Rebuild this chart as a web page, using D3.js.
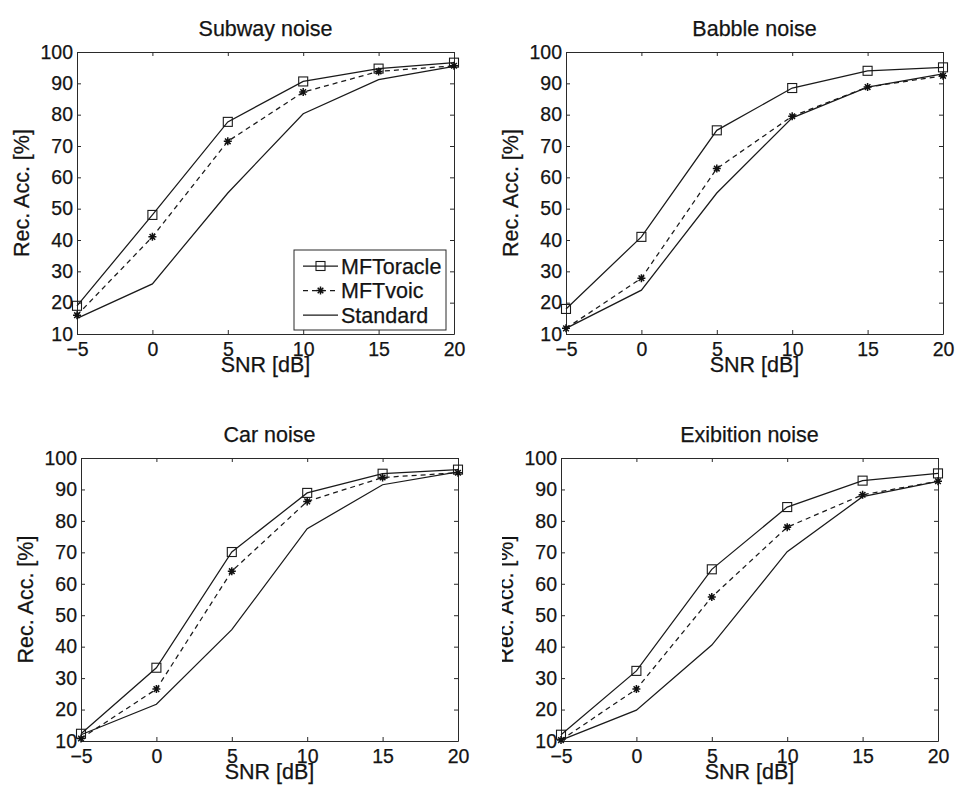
<!DOCTYPE html>
<html>
<head>
    <meta charset="utf-8">
    <title>Rec. Acc. vs SNR</title>
    <script type="text/javascript" src="https://cdn.jsdelivr.net/npm/d3@7"></script>
    <style>
        body { margin: 0; background: #fff; }
        text { font-family: "Liberation Sans", Arial, Helvetica, sans-serif; fill: #141414; stroke: #141414; stroke-width: 0.25px; }
        .axis path, .axis line { stroke: #2a2a2a; }
        .line { fill: none; stroke: #1a1a1a; stroke-width: 1.25; }
    </style>
</head>
<body>
<script type="text/javascript">
    // x values and tick labels
    var snrValues = [-5, 0, 5, 10, 15, 20];
    var yTickValues = [10, 20, 30, 40, 50, 60, 70, 80, 90, 100];
    var seriesNames = ["MFToracle", "MFTvoic", "Standard"];
    var panelTitles = ["Subway noise", "Babble noise", "Car noise", "Exibition noise"];

    // one array per panel and system
    var subwayOracle   = [19, 48, 77.7, 90.6, 94.7, 96.6];
    var subwayVoic     = [16, 41, 71.5, 87.2, 93.8, 95.6];
    var subwayStandard = [15, 26, 55, 80.3, 91.2, 95.4];

    var babbleOracle   = [18, 41, 75, 88.5, 94, 95.1];
    var babbleVoic     = [11.8, 27.8, 62.8, 79.5, 88.8, 92.4];
    var babbleStandard = [11.8, 24, 55, 79, 88.8, 93];

    var carOracle   = [12.3, 33.3, 70.1, 88.9, 95, 96.3];
    var carVoic     = [10.8, 26.5, 64, 86.2, 93.8, 95.3];
    var carStandard = [12, 21.7, 45.4, 77.5, 91.5, 95.6];

    var exiOracle   = [12, 32.3, 64.6, 84.4, 92.8, 95.1];
    var exiVoic     = [10.3, 26.5, 55.8, 78, 88.3, 92.6];
    var exiStandard = [10.3, 19.8, 40.5, 70.2, 87.7, 92.6];

    var panelData = [
        [subwayOracle, subwayVoic, subwayStandard],
        [babbleOracle, babbleVoic, babbleStandard],
        [carOracle, carVoic, carStandard],
        [exiOracle, exiVoic, exiStandard]
    ];

    // plot boxes of the four axes (left, top, width, height)
    var boxes = [
        {left: 77,  top: 52,  width: 377, height: 282},
        {left: 566, top: 52,  width: 377, height: 282},
        {left: 81,  top: 458, width: 377, height: 283},
        {left: 561, top: 458, width: 377, height: 283}
    ];

    var tickFont = 19.5,   // tick numbers
        labelFont = 21.5;  // titles, axis labels, legend

    var svg = d3.select("body").append("svg")
            .attr("width", 955)
            .attr("height", 785);

    var defs = svg.append("defs");

    // asterisk marker, like matlab '*'
    function starPath(r) {
        var d = r * 0.7;
        return "M" + (-r) + ",0L" + r + ",0" +
               "M0," + (-r) + "L0," + r +
               "M" + (-d) + "," + (-d) + "L" + d + "," + d +
               "M" + (-d) + "," + d + "L" + d + "," + (-d);
    }

    function drawMarker(g, kind, cx, cy) {
        if (kind === 0) {
            g.append("rect")
                .attr("x", cx - 4.5).attr("y", cy - 4.5)
                .attr("width", 9).attr("height", 9)
                .attr("fill", "none")
                .attr("stroke", "#1a1a1a")
                .attr("stroke-width", 1.1);
        } else if (kind === 1) {
            g.append("path")
                .attr("transform", "translate(" + cx + "," + cy + ")")
                .attr("d", starPath(4))
                .attr("fill", "none")
                .attr("stroke", "#111")
                .attr("stroke-width", 1.5);
        }
    }

    function styleTicks(a) {
        a.selectAll("text")
            .style("font-size", tickFont + "px")
            .attr("fill", "#141414");
    }

    function renderPanel(i) {
        var box = boxes[i];
        var x = d3.scaleLinear().domain([-5, 20]).range([0, box.width]);
        var y = d3.scaleLinear().domain([10, 100]).range([box.height, 0]);

        var g = svg.append("g")
                .attr("transform", "translate(" + box.left + "," + box.top + ")");

        // title
        g.append("text")
            .attr("x", box.width / 2)
            .attr("y", -16)
            .attr("text-anchor", "middle")
            .style("font-size", labelFont + "px")
            .text(panelTitles[i]);

        // bottom + left axes with labels, ticks pointing inward
        g.append("g")
            .attr("class", "axis")
            .attr("transform", "translate(0," + box.height + ")")
            .call(d3.axisBottom(x).tickValues(snrValues).tickSize(-4).tickSizeOuter(0).tickPadding(8))
            .call(styleTicks);

        g.append("g")
            .attr("class", "axis")
            .call(d3.axisLeft(y).tickValues(yTickValues).tickSize(-4).tickSizeOuter(0).tickPadding(4))
            .call(styleTicks);

        // top + right axes, ticks only
        g.append("g")
            .attr("class", "axis")
            .call(d3.axisTop(x).tickValues(snrValues).tickSize(-4).tickSizeOuter(0).tickFormat(""));

        g.append("g")
            .attr("class", "axis")
            .attr("transform", "translate(" + box.width + ",0)")
            .call(d3.axisRight(y).tickValues(yTickValues).tickSize(-4).tickSizeOuter(0).tickFormat(""));

        // axis titles
        g.append("text")
            .attr("x", box.width / 2)
            .attr("y", box.height + 38)
            .attr("text-anchor", "middle")
            .style("font-size", labelFont + "px")
            .text("SNR [dB]");

        var yLabG = g.append("g");
        yLabG.append("text")
            .attr("transform", "translate(-48," + (box.height / 2) + ") rotate(-90)")
            .attr("text-anchor", "middle")
            .style("font-size", labelFont + "px")
            .text("Rec. Acc. [%]");

        // the last panel has its y label partly cut off in the original
        if (i === 3) {
            defs.append("clipPath").attr("id", "ylab-clip")
                .append("rect")
                .attr("x", -59).attr("y", 0)
                .attr("width", 40).attr("height", box.height);
            yLabG.attr("clip-path", "url(#ylab-clip)");
        }

        var line = d3.line()
                .x(function (d, j) { return x(snrValues[j]); })
                .y(function (d) { return y(d); });

        var series = panelData[i];
        g.selectAll("path.line")
            .data(series)
            .enter()
            .append("path")
            .attr("class", "line")
            .attr("stroke-dasharray", function (d, k) { return k === 1 ? "5,4" : null; })
            .attr("d", function (d) { return line(d); });

        series.forEach(function (values, k) {
            values.forEach(function (v, j) {
                drawMarker(g, k, x(snrValues[j]), y(v));
            });
        });

        if (i === 0) renderLegend(g, box);
    }

    function renderLegend(g, box) {
        var lw = 152, lh = 80;
        var lg = g.append("g")
                .attr("transform", "translate(" + (box.width - 8 - lw) + "," + (box.height - 4 - lh) + ")");

        lg.append("rect")
            .attr("width", lw).attr("height", lh)
            .attr("fill", "#fff")
            .attr("stroke", "#2a2a2a")
            .attr("stroke-width", 1);

        seriesNames.forEach(function (name, k) {
            var cy = 16 + k * 24.5;
            lg.append("line")
                .attr("class", "line")
                .attr("x1", 9).attr("x2", 44)
                .attr("y1", cy).attr("y2", cy)
                .attr("stroke-dasharray", k === 1 ? "5,4" : null);
            drawMarker(lg, k, 26.5, cy);
            lg.append("text")
                .attr("x", 47)
                .attr("y", cy + 7.5)
                .style("font-size", labelFont + "px")
                .text(name);
        });
    }

    for (var i = 0; i < panelTitles.length; ++i)
        renderPanel(i);
</script>
</body>
</html>
